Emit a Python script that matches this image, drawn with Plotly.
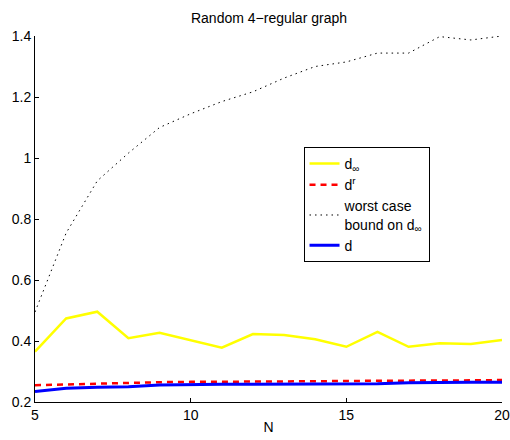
import plotly.graph_objects as go

N = list(range(5, 21))
d_inf = [0.365, 0.474, 0.496, 0.409, 0.427, 0.403, 0.378, 0.423, 0.420, 0.406,
         0.381, 0.430, 0.381, 0.393, 0.390, 0.403]
d_r = [0.255, 0.258, 0.261, 0.263, 0.265, 0.266, 0.266, 0.267, 0.267, 0.268,
       0.269, 0.269, 0.270, 0.271, 0.271, 0.272]
worst = [0.495, 0.754, 0.925, 1.016, 1.100, 1.145, 1.185, 1.217, 1.262, 1.300,
         1.315, 1.344, 1.344, 1.398, 1.387, 1.400]
d = [0.234, 0.245, 0.248, 0.250, 0.256, 0.258, 0.258, 0.258, 0.258, 0.260,
     0.260, 0.260, 0.263, 0.265, 0.265, 0.265]

FONT = "Liberation Sans, Arial, Helvetica, sans-serif"

W, H = 510, 440

fig = go.Figure()
fig.add_trace(go.Scatter(x=N, y=d_inf, mode="lines", name="d<sub>∞</sub>",
                         legendgroup="a",
                         line=dict(color="#ffff00", width=2.5)))
fig.add_trace(go.Scatter(x=N, y=d_r, mode="lines", name="d<sup>r</sup>",
                         legendgroup="b",
                         line=dict(color="#ff0000", width=2.5, dash="6px,5px")))
fig.add_trace(go.Scatter(x=N, y=worst, mode="lines",
                         name="worst case<br>bound on d<sub>∞</sub>",
                         legendgroup="c",
                         line=dict(color="#000000", width=1, dash="1.5px,4px")))
fig.add_trace(go.Scatter(x=N, y=d, mode="lines", name="d",
                         legendgroup="d",
                         line=dict(color="#0000ff", width=3)))

fig.update_layout(
    width=W, height=H,
    margin=dict(l=35, r=8, t=36, b=38),
    paper_bgcolor="white", plot_bgcolor="white",
    font=dict(family=FONT, size=14, color="black"),
    title=dict(text="Random 4\u2212regular graph", x=269 / W,
               xanchor="center", y=1 - 18 / H, yanchor="middle",
               font=dict(size=14, family=FONT)),
    showlegend=True,
    legend=dict(x=0.575, y=0.697, xanchor="left", yanchor="top",
                bordercolor="black", borderwidth=1, bgcolor="white",
                font=dict(size=14, family=FONT), tracegroupgap=5,
                traceorder="normal"),
)
fig.update_xaxes(range=[5, 20], tickvals=[5, 10, 15, 20], ticks="inside",
                 ticklen=4, tickcolor="black", showline=True, linecolor="black",
                 linewidth=1, showgrid=False, zeroline=False, automargin=False,
                 ticklabeloverflow="allow",
                 title=dict(text="N", standoff=0, font=dict(size=14)),
                 tickfont=dict(size=14))
fig.update_yaxes(range=[0.2, 1.4], tickvals=[0.2, 0.4, 0.6, 0.8, 1.0, 1.2, 1.4],
                 ticktext=["0.2", "0.4", "0.6", "0.8", "1", "1.2", "1.4"],
                 ticks="inside", ticklen=4, tickcolor="black", showline=True,
                 linecolor="black", linewidth=1, showgrid=False, zeroline=False,
                 automargin=False, ticklabeloverflow="allow",
                 tickfont=dict(size=14))

fig.write_html(
    "out.html",
    config={"displayModeBar": False},
    post_script="document.body.style.margin='0';document.body.style.overflow='hidden';",
)
